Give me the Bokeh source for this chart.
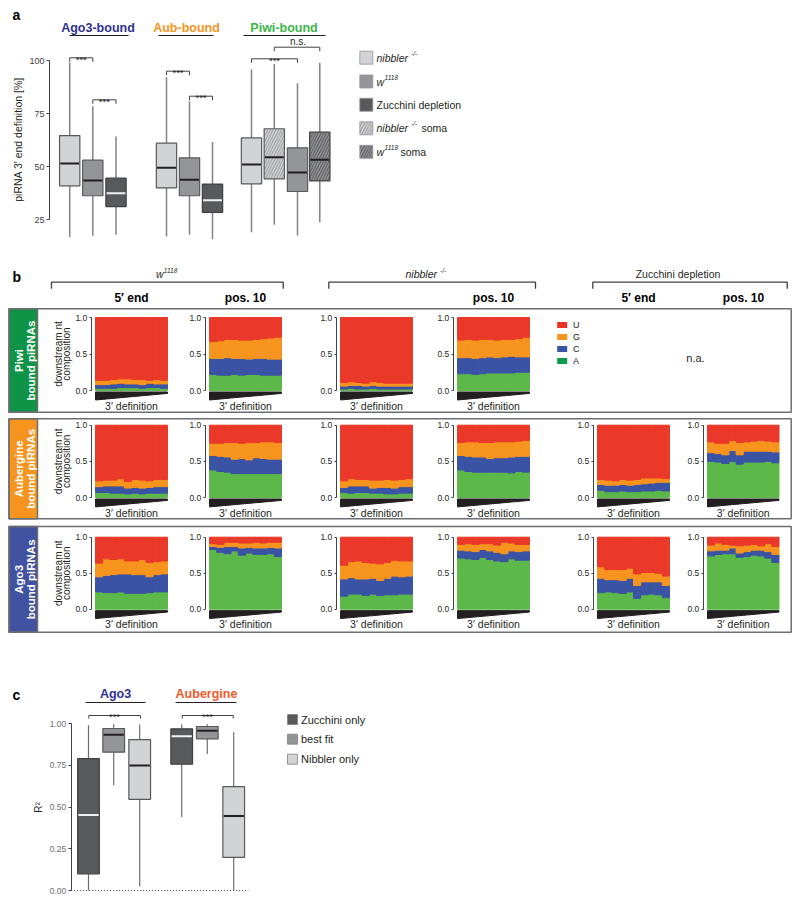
import math
from bokeh.plotting import figure
from bokeh.models import Range1d, LinearAxis, FixedTicker, NumeralTickFormatter, ColumnDataSource
from bokeh.core.properties import value
from bokeh.embed import file_html
from bokeh.resources import INLINE

FONT = "Liberation Sans"
INK = "#231f20"

# ============================ DATA ============================
# Panel a : piRNA 3' end definition [%]  (box statistics)
a_groups = ["Ago3-bound", "Aub-bound", "Piwi-bound"]
a_samples = ["nibbler-/-", "w1118", "Zucchini depletion",
             "nibbler-/-", "w1118", "Zucchini depletion",
             "nibbler-/-", "nibbler-/- soma", "w1118", "w1118 soma"]
a_low    = [16.7, 17.3, 17.8, 17.0, 17.8, 15.7, 19.0, 22.5, 17.5, 23.7]
a_q1     = [40.9, 36.2, 31.1, 39.9, 36.2, 28.4, 41.8, 44.2, 38.2, 43.2]
a_median = [51.4, 43.4, 37.4, 49.4, 43.7, 34.1, 51.0, 54.4, 47.2, 53.2]
a_q3     = [64.6, 53.0, 44.5, 61.0, 54.1, 41.7, 63.5, 67.8, 58.8, 66.2]
a_high   = [99.0, 78.4, 64.1, 92.1, 80.8, 61.5, 95.8, 98.4, 89.3, 98.9]
a_ticks  = [25, 50, 75, 100]

# Panel b : downstream nt composition per 3' definition bin
b_bins = [1, 2, 3, 4, 5, 6, 7, 8, 9, 10]
b_ticks = [0.0, 0.5, 1.0]
piwi_w1118_5end = dict(
    A=[0.03, 0.03, 0.03, 0.04, 0.04, 0.04, 0.03, 0.04, 0.04, 0.03],
    C=[0.05, 0.05, 0.06, 0.06, 0.05, 0.05, 0.05, 0.06, 0.05, 0.06],
    G=[0.06, 0.06, 0.06, 0.06, 0.07, 0.06, 0.07, 0.04, 0.06, 0.05],
    U=[0.86, 0.86, 0.85, 0.84, 0.84, 0.85, 0.85, 0.86, 0.85, 0.86])
piwi_w1118_pos10 = dict(
    A=[0.22, 0.21, 0.21, 0.22, 0.21, 0.22, 0.22, 0.21, 0.21, 0.21],
    C=[0.22, 0.23, 0.24, 0.22, 0.23, 0.21, 0.22, 0.23, 0.22, 0.22],
    G=[0.23, 0.24, 0.25, 0.26, 0.25, 0.26, 0.26, 0.27, 0.29, 0.30],
    U=[0.33, 0.32, 0.30, 0.30, 0.31, 0.31, 0.30, 0.29, 0.28, 0.27])
piwi_nibbler_5end = dict(
    A=[0.02, 0.03, 0.02, 0.02, 0.03, 0.02, 0.02, 0.02, 0.02, 0.02],
    C=[0.04, 0.04, 0.05, 0.04, 0.04, 0.04, 0.04, 0.04, 0.04, 0.04],
    G=[0.05, 0.05, 0.04, 0.04, 0.05, 0.05, 0.04, 0.04, 0.04, 0.04],
    U=[0.89, 0.88, 0.89, 0.90, 0.88, 0.89, 0.90, 0.90, 0.90, 0.90])
piwi_nibbler_pos10 = dict(
    A=[0.23, 0.23, 0.22, 0.23, 0.24, 0.24, 0.24, 0.24, 0.25, 0.25],
    C=[0.22, 0.22, 0.22, 0.22, 0.22, 0.21, 0.22, 0.23, 0.21, 0.21],
    G=[0.24, 0.25, 0.25, 0.25, 0.24, 0.24, 0.24, 0.23, 0.25, 0.27],
    U=[0.31, 0.30, 0.31, 0.30, 0.30, 0.31, 0.30, 0.30, 0.29, 0.27])
aub_w1118_5end = dict(
    A=[0.07, 0.07, 0.06, 0.06, 0.05, 0.06, 0.05, 0.06, 0.06, 0.06],
    C=[0.08, 0.09, 0.10, 0.10, 0.08, 0.08, 0.08, 0.08, 0.09, 0.09],
    G=[0.08, 0.08, 0.08, 0.10, 0.09, 0.11, 0.11, 0.09, 0.10, 0.10],
    U=[0.77, 0.76, 0.76, 0.74, 0.78, 0.75, 0.76, 0.77, 0.75, 0.75])
aub_w1118_pos10 = dict(
    A=[0.38, 0.36, 0.35, 0.33, 0.33, 0.33, 0.33, 0.33, 0.33, 0.33],
    C=[0.20, 0.21, 0.21, 0.20, 0.21, 0.19, 0.22, 0.21, 0.20, 0.20],
    G=[0.17, 0.18, 0.20, 0.23, 0.21, 0.24, 0.21, 0.23, 0.24, 0.23],
    U=[0.25, 0.25, 0.24, 0.24, 0.25, 0.24, 0.24, 0.23, 0.23, 0.24])
aub_nibbler_5end = dict(
    A=[0.07, 0.06, 0.07, 0.07, 0.06, 0.06, 0.05, 0.05, 0.06, 0.06],
    C=[0.07, 0.10, 0.09, 0.09, 0.07, 0.08, 0.09, 0.08, 0.09, 0.09],
    G=[0.09, 0.10, 0.09, 0.09, 0.11, 0.10, 0.11, 0.11, 0.10, 0.11],
    U=[0.77, 0.74, 0.75, 0.75, 0.76, 0.76, 0.75, 0.76, 0.75, 0.74])
aub_nibbler_pos10 = dict(
    A=[0.38, 0.36, 0.35, 0.35, 0.35, 0.35, 0.35, 0.34, 0.36, 0.35],
    C=[0.20, 0.21, 0.21, 0.21, 0.19, 0.20, 0.20, 0.22, 0.21, 0.22],
    G=[0.18, 0.20, 0.21, 0.20, 0.22, 0.22, 0.22, 0.21, 0.21, 0.22],
    U=[0.24, 0.23, 0.23, 0.24, 0.24, 0.23, 0.23, 0.23, 0.22, 0.21])
aub_zuc_5end = dict(
    A=[0.10, 0.08, 0.08, 0.09, 0.08, 0.08, 0.09, 0.09, 0.10, 0.09],
    C=[0.08, 0.09, 0.09, 0.09, 0.09, 0.10, 0.10, 0.11, 0.11, 0.12],
    G=[0.07, 0.07, 0.06, 0.07, 0.07, 0.07, 0.08, 0.07, 0.06, 0.05],
    U=[0.75, 0.76, 0.77, 0.75, 0.76, 0.75, 0.73, 0.73, 0.73, 0.74])
aub_zuc_pos10 = dict(
    A=[0.50, 0.49, 0.47, 0.50, 0.46, 0.49, 0.49, 0.49, 0.50, 0.48],
    C=[0.12, 0.12, 0.12, 0.15, 0.13, 0.15, 0.15, 0.15, 0.14, 0.15],
    G=[0.15, 0.14, 0.16, 0.14, 0.17, 0.13, 0.14, 0.15, 0.14, 0.14],
    U=[0.23, 0.25, 0.25, 0.21, 0.24, 0.23, 0.22, 0.21, 0.22, 0.23])
ago3_w1118_5end = dict(
    A=[0.24, 0.23, 0.23, 0.24, 0.22, 0.22, 0.22, 0.23, 0.24, 0.24],
    C=[0.21, 0.24, 0.25, 0.25, 0.27, 0.26, 0.26, 0.22, 0.24, 0.25],
    G=[0.19, 0.23, 0.21, 0.21, 0.18, 0.19, 0.21, 0.20, 0.18, 0.18],
    U=[0.36, 0.30, 0.31, 0.30, 0.33, 0.33, 0.31, 0.35, 0.34, 0.33])
ago3_w1118_pos10 = dict(
    A=[0.83, 0.79, 0.77, 0.81, 0.75, 0.78, 0.76, 0.76, 0.77, 0.73],
    C=[0.04, 0.07, 0.10, 0.06, 0.10, 0.08, 0.09, 0.09, 0.09, 0.12],
    G=[0.04, 0.04, 0.06, 0.06, 0.07, 0.06, 0.08, 0.07, 0.07, 0.08],
    U=[0.09, 0.10, 0.07, 0.07, 0.08, 0.08, 0.07, 0.08, 0.07, 0.07])
ago3_nibbler_5end = dict(
    A=[0.18, 0.21, 0.21, 0.19, 0.21, 0.19, 0.20, 0.20, 0.21, 0.21],
    C=[0.24, 0.23, 0.21, 0.23, 0.22, 0.21, 0.23, 0.26, 0.24, 0.25],
    G=[0.19, 0.22, 0.25, 0.23, 0.21, 0.23, 0.22, 0.22, 0.22, 0.21],
    U=[0.39, 0.34, 0.33, 0.35, 0.36, 0.37, 0.35, 0.32, 0.33, 0.33])
ago3_nibbler_pos10 = dict(
    A=[0.71, 0.70, 0.69, 0.72, 0.69, 0.67, 0.66, 0.70, 0.68, 0.68],
    C=[0.11, 0.11, 0.11, 0.11, 0.12, 0.12, 0.11, 0.11, 0.12, 0.13],
    G=[0.08, 0.10, 0.10, 0.08, 0.10, 0.10, 0.16, 0.11, 0.10, 0.09],
    U=[0.10, 0.09, 0.10, 0.09, 0.09, 0.11, 0.07, 0.08, 0.10, 0.10])
ago3_zuc_5end = dict(
    A=[0.23, 0.24, 0.23, 0.22, 0.24, 0.15, 0.20, 0.21, 0.20, 0.16],
    C=[0.20, 0.17, 0.18, 0.18, 0.19, 0.18, 0.18, 0.17, 0.18, 0.17],
    G=[0.16, 0.14, 0.14, 0.15, 0.14, 0.16, 0.13, 0.13, 0.12, 0.13],
    U=[0.41, 0.45, 0.45, 0.45, 0.43, 0.51, 0.49, 0.49, 0.50, 0.54])
ago3_zuc_pos10 = dict(
    A=[0.74, 0.76, 0.77, 0.77, 0.72, 0.73, 0.75, 0.74, 0.71, 0.65],
    C=[0.07, 0.06, 0.05, 0.08, 0.06, 0.07, 0.07, 0.08, 0.09, 0.11],
    G=[0.08, 0.10, 0.08, 0.04, 0.10, 0.09, 0.08, 0.06, 0.11, 0.11],
    U=[0.11, 0.08, 0.10, 0.11, 0.12, 0.11, 0.10, 0.12, 0.09, 0.13])

# Panel c : R^2 of model fits
c_groups = ["Ago3", "Aubergine"]
c_models = ["Zucchini only", "best fit", "Nibbler only"]
c_low    = [0.00, 0.63, 0.024, 0.44, 0.818, 0.00]
c_q1     = [0.10, 0.828, 0.546, 0.756, 0.908, 0.198]
c_median = [0.452, 0.932, 0.748, 0.924, 0.956, 0.446]
c_q3     = [0.79, 0.97, 0.904, 0.968, 0.982, 0.622]
c_high   = [0.99, 0.996, 0.994, 0.996, 0.996, 0.948]
c_ticks  = [0.0, 0.25, 0.5, 0.75, 1.0]

# ============================ LAYOUT / STYLE ============================
PW, PH = 794, 900
X_LO, X_HI = 0.0, float(PW)
Y_BOT, Y_TOP = float(PH), 0.0
p = figure(width=PW, height=PH, x_range=Range1d(X_LO, X_HI), y_range=Range1d(Y_BOT, Y_TOP),
           output_backend="svg", toolbar_location=None, min_border=0,
           x_axis_type=None, y_axis_type=None, outline_line_color=None,
           background_fill_color="white", border_fill_color="white")


def xmap(name, px0, px1, v0, v1):
    k = (v1 - v0) / (px1 - px0)
    p.extra_x_ranges[name] = Range1d(start=v0 + (X_LO - px0) * k, end=v0 + (X_HI - px0) * k)


def ymap(name, py0, py1, v0, v1):
    k = (v1 - v0) / (py1 - py0)
    p.extra_y_ranges[name] = Range1d(start=v0 + (Y_BOT - py0) * k, end=v0 + (Y_TOP - py0) * k)


def T(x, y, s, size=10.0, color=INK, align="left", baseline="middle", style="normal", angle=0.0):
    p.text(x=[x], y=[y], text=[s], text_font=value(FONT), text_font_size=f"{size}px",
           text_color=color, text_align=align, text_baseline=baseline,
           text_font_style=style, angle=angle)


def L(xs, ys, color=INK, width=1.0):
    p.line(x=xs, y=ys, line_color=color, line_width=width)


def bracket(x0, x1, y, drop=4.0, width=1.0):
    L([x0, x0, x1, x1], [y + drop, y, y, y + drop], "#414042", width)


def style_axis(ax, size, color):
    ax.axis_line_color = "#414042"
    ax.axis_line_width = 1
    ax.major_tick_line_color = "#414042"
    ax.major_tick_out = 3
    ax.major_tick_in = 0
    ax.minor_tick_line_color = None
    ax.major_label_text_font = FONT
    ax.major_label_text_font_size = f"{size}px"
    ax.major_label_text_color = color
    ax.major_label_standoff = 2


FILL = ["#d1d3d4", "#939598", "#58595b", "#d1d3d4", "#939598"]
EDGE = ["#58595b", "#58595b", "#414042", "#58595b", "#414042"]
HATCH = [None, None, None, "#808285", "#414042"]
MED = ["#231f20", "#231f20", "#f1f2f2", "#231f20", "#231f20"]


def boxes(xs, kinds, bw, low, q1, med, q3, high, yname, wcol, ww):
    for i in range(len(xs)):
        k, x = kinds[i], xs[i]
        p.segment(x0=[x, x], y0=[low[i], q3[i]], x1=[x, x], y1=[q1[i], high[i]],
                  line_color=wcol, line_width=ww, y_range_name=yname)
        kw = {}
        if HATCH[k]:
            kw = dict(hatch_pattern="/", hatch_color=HATCH[k], hatch_weight=0.8, hatch_scale=5.5)
        p.quad(left=[x - bw / 2], right=[x + bw / 2], bottom=[q1[i]], top=[q3[i]],
               fill_color=FILL[k], line_color=EDGE[k], line_width=1.2, y_range_name=yname, **kw)
        p.segment(x0=[x - bw / 2 + 0.7], x1=[x + bw / 2 - 0.7], y0=[med[i]], y1=[med[i]],
                  line_color=MED[k], line_width=2, y_range_name=yname)


# ---------------- Panel a ----------------
A_BX = [69.2, 92.3, 115.5, 166.0, 189.0, 212.0, 251.0, 273.8, 297.0, 319.3]
A_KIND = [0, 1, 2, 0, 1, 2, 0, 3, 1, 4]
ymap("ay", 139.5, 60.0, 62.5, 100.0)

T(12, 14, "a", 14, "#000", style="bold")
for name, cx, col, (u0, u1) in zip(a_groups, [97.5, 186, 283.5], ["#2e3192", "#f7941d", "#3db54a"],
                                   [(69, 128), (158, 213), (243, 325)]):
    T(cx, 27, name, 12.5, col, "center", style="bold")
    L([u0, u1], [35, 35], INK, 1)

T(17, 139, "piRNA 3\u2032 end definition [%]", 10.5, INK, "center", angle=math.pi / 2)

boxes(A_BX, A_KIND, 20.3, a_low, a_q1, a_median, a_q3, a_high, "ay", "#808285", 1.5)

axa = LinearAxis(y_range_name="ay", fixed_location=49, bounds=(25, 100),
                 ticker=FixedTicker(ticks=a_ticks))
style_axis(axa, 9, "#414042")
p.add_layout(axa, "left")

# significance
for (x0, x1, y, lab) in [(69.2, 92.3, 57.3, "***"), (92.3, 115.5, 99.3, "***"),
                         (166.0, 189.0, 70.7, "***"), (189.0, 212.0, 95.7, "***"),
                         (251.0, 297.0, 58.3, "***"), (273.8, 319.3, 46.7, "n.s.")]:
    bracket(x0, x1, y, 4)
    if lab == "***":
        T((x0 + x1) / 2, y + 1.5, lab, 9.5, INK, "center", "alphabetic")
    else:
        T((x0 + x1) / 2 + 1, y - 5.5, lab, 10, INK, "center", "middle")

# legend a
leg_y = [57.2, 81.0, 104.3, 127.8, 151.3]
for yy, k in zip(leg_y, [0, 1, 2, 3, 4]):
    kw = {}
    if HATCH[k]:
        kw = dict(hatch_pattern="/", hatch_color=HATCH[k], hatch_weight=0.8, hatch_scale=5.5)
    p.quad(left=[359.3], right=[372.3], top=[yy - 6.5], bottom=[yy + 6.5],
           fill_color=FILL[k], line_color="#939598", line_width=0.8, **kw)
T(376, leg_y[0], "nibbler", 10.5, INK, style="italic")
T(410.5, leg_y[0] - 4.5, "-/-", 6.5, INK, style="italic")
T(376, leg_y[1], "w", 10.5, INK, style="italic")
T(384, leg_y[1] - 4.5, "1118", 6.5, INK, style="italic")
T(376, leg_y[2], "Zucchini depletion", 10.5, INK)
T(376, leg_y[3], "nibbler", 10.5, INK, style="italic")
T(410.5, leg_y[3] - 4.5, "-/-", 6.5, INK, style="italic")
T(421, leg_y[3], "soma", 10.5, INK)
T(376, leg_y[4], "w", 10.5, INK, style="italic")
T(384, leg_y[4] - 4.5, "1118", 6.5, INK, style="italic")
T(400, leg_y[4], "soma", 10.5, INK)

# ---------------- Panel b ----------------
NT = ["A", "C", "G", "U"]
NT_COL = {"A": "#5cb848", "C": "#3a53a4", "G": "#f7941e", "U": "#ea3829"}
NT_LEG = {"A": "#0a9a4a", "C": "#3853a4", "G": "#f7941d", "U": "#ee3124"}
COL_L = [95.0, 209.0, 340.0, 457.0, 597.0, 707.0]
COL_R = [167.0, 281.0, 412.0, 529.0, 669.0, 778.5]
ROW_TOP = [317.0, 424.7, 536.7]
ROW_BOT = [390.0, 497.0, 608.7]
ROW_BOX = [(308.3, 411.7), (418.3, 518.3), (526.0, 631.7)]
ROW_LAB = [("Piwi", "bound piRNAs"), ("Aubergine", "bound piRNAs"), ("Ago3", "bound piRNAs")]
ROW_FILL = ["#0f9447", "#f7941d", "#4152a1"]
DEF_Y = [405.0, 512.3, 623.3]

b_plots = {
    (0, 0): piwi_w1118_5end, (0, 1): piwi_w1118_pos10, (0, 2): piwi_nibbler_5end, (0, 3): piwi_nibbler_pos10,
    (1, 0): aub_w1118_5end, (1, 1): aub_w1118_pos10, (1, 2): aub_nibbler_5end, (1, 3): aub_nibbler_pos10,
    (1, 4): aub_zuc_5end, (1, 5): aub_zuc_pos10,
    (2, 0): ago3_w1118_5end, (2, 1): ago3_w1118_pos10, (2, 2): ago3_nibbler_5end, (2, 3): ago3_nibbler_pos10,
    (2, 4): ago3_zuc_5end, (2, 5): ago3_zuc_pos10,
}

T(12, 276, "b", 14, "#000", style="bold")
# headers
bracket(51.0, 282.7, 281.7, 6.5, 1.3)
bracket(328.3, 535.0, 281.7, 6.5, 1.3)
bracket(592.3, 786.7, 281.7, 6.5, 1.3)
T(155.5, 273.5, "w", 10.5, INK, style="italic")
T(163.3, 269.5, "1118", 6.5, INK, style="italic")
T(405, 273.5, "nibbler", 10.5, INK, style="italic")
T(439.5, 269.5, "-/-", 6.5, INK, style="italic")
T(677.5, 273.5, "Zucchini depletion", 10.5, INK, "center")
for cx, lab in [(131, "5\u2032 end"), (245, "pos. 10"), (493, "pos. 10"), (638, "5\u2032 end"), (743, "pos. 10")]:
    T(cx, 297.5, lab, 12, "#000", "center", style="bold")

for r in range(3):
    ymap(f"by{r}", ROW_BOT[r], ROW_TOP[r], 0.0, 1.0)
for c in range(6):
    xmap(f"bx{c}", COL_L[c], COL_R[c], 0.5, 10.5)

for r in range(3):
    t0, t1 = ROW_BOX[r]
    p.quad(left=[8.5], right=[37.0], top=[t0], bottom=[t1], fill_color=ROW_FILL[r],
           line_color="#6d6e71", line_width=1.5)
    p.quad(left=[8.5], right=[790.7], top=[t0], bottom=[t1], fill_color=None,
           line_color="#6d6e71", line_width=1.5)
    yc = (t0 + t1) / 2
    T(18.8, yc, ROW_LAB[r][0], 11.5, "white", "center", style="bold", angle=math.pi / 2)
    T(30.0, yc, ROW_LAB[r][1], 11.5, "white", "center", style="bold", angle=math.pi / 2)
    fc = (ROW_TOP[r] + ROW_BOT[r]) / 2
    T(57.5, fc, "downstream nt", 10, INK, "center", angle=math.pi / 2)
    T(66.3, fc, "composition", 10, INK, "center", angle=math.pi / 2)

for (r, c), d in b_plots.items():
    xn, yn = f"bx{c}", f"by{r}"
    src = ColumnDataSource(dict(bin=b_bins, A=d["A"], C=d["C"], G=d["G"], U=d["U"]))
    p.vbar_stack(NT, x="bin", width=1.0, source=src, color=[NT_COL[n] for n in NT],
                 line_width=1.0, x_range_name=xn, y_range_name=yn)
    p.patch(x=[0.5, 10.5, 10.5, 0.5], y=[-0.02, -0.02, -0.04, -0.13], color="#231f20",
            x_range_name=xn, y_range_name=yn)
    ax = LinearAxis(x_range_name=xn, y_range_name=yn, fixed_location=0.5 - 4.3 * 10 / 72,
                    bounds=(0, 1), ticker=FixedTicker(ticks=b_ticks),
                    formatter=NumeralTickFormatter(format="0.0"))
    style_axis(ax, 8.5, "#231f20")
    ax.major_tick_out = 2
    p.add_layout(ax, "left")
    T((COL_L[c] + COL_R[c]) / 2, DEF_Y[r], "3\u2032 definition", 10.5, INK, "center")

# nt legend + n.a.
for yy, n in zip([324.5, 336.5, 348.5, 360.5], ["U", "G", "C", "A"]):
    p.quad(left=[556.7], right=[566.7], top=[yy - 3], bottom=[yy + 3], fill_color=NT_LEG[n], line_color=None)
    T(572.5, yy, n, 9, INK)
T(695, 357, "n.a.", 11, INK, "center")

# ---------------- Panel c ----------------
C_BX = [88.0, 113.2, 139.2, 181.2, 206.8, 233.2]
C_KIND = [2, 1, 0, 2, 1, 0]
ymap("cy", 890.0, 723.0, 0.0, 1.0)

T(12, 694, "c", 14, "#000", style="bold")
T(115, 693.5, "Ago3", 12.5, "#2e3192", "center", style="bold")
L([85, 145], [702, 702], INK, 1)
T(206, 693.5, "Aubergine", 12.5, "#f15a29", "center", style="bold")
L([175, 236], [702, 702], INK, 1)
bracket(88.3, 140.0, 715.0, 3)
bracket(181.7, 232.7, 715.0, 3)
T(114, 716, "***", 9.5, INK, "center", "alphabetic")
T(207, 716, "***", 9.5, INK, "center", "alphabetic")

p.segment(x0=[70.7], x1=[248.0], y0=[0.0], y1=[0.0], y_range_name="cy",
          line_color="#414042", line_width=1, line_dash="1 2")
boxes(C_BX, C_KIND, 21.7, c_low, c_q1, c_median, c_q3, c_high, "cy", "#6d6e71", 1.2)

axc = LinearAxis(y_range_name="cy", fixed_location=70.7, bounds=(0, 1),
                 ticker=FixedTicker(ticks=c_ticks), formatter=NumeralTickFormatter(format="0.00"))
style_axis(axc, 8.5, "#6d6e71")
p.add_layout(axc, "left")
T(38, 807, "R\u00b2", 10, INK, "center", angle=math.pi / 2)

for yy, k, lab in zip([719.0, 738.7, 758.7], [2, 1, 0], c_models):
    p.quad(left=[287.0], right=[297.0], top=[yy - 5], bottom=[yy + 5], fill_color=FILL[k],
           line_color="#808285", line_width=0.8)
    T(300.5, yy, lab, 11, INK)

open("out.html", "w").write(file_html(p, INLINE))
